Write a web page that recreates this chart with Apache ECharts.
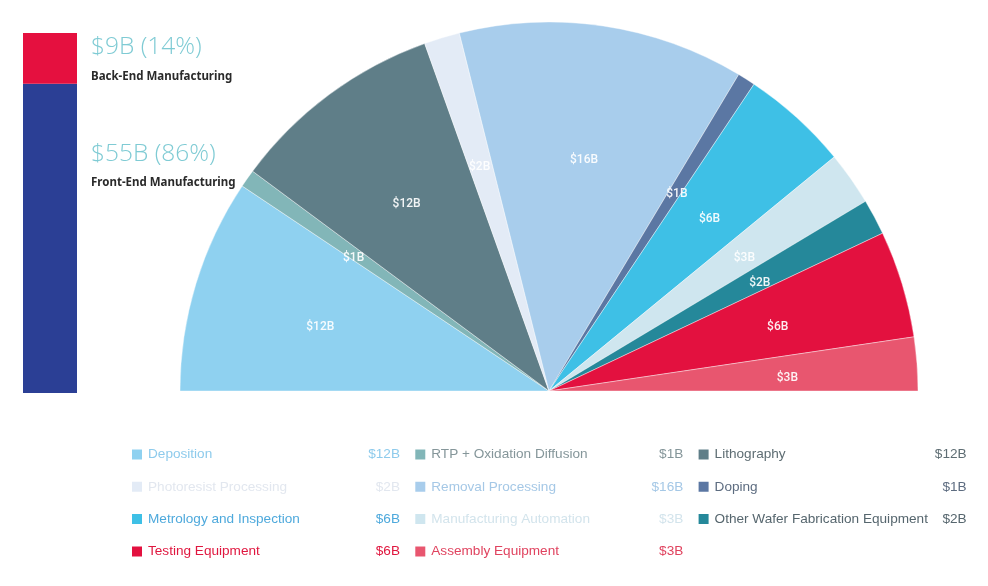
<!DOCTYPE html>
<html><head><meta charset="utf-8">
<script src="https://cdn.jsdelivr.net/npm/echarts@6/dist/echarts.min.js"></script>
<style>html,body{margin:0;padding:0;background:#fff}#c{width:988px;height:586px}</style>
</head><body><div id="c"></div>
<script>
// ---- data ----
const categories = ['Deposition','RTP + Oxidation Diffusion','Lithography','Photoresist Processing','Removal Processing','Doping','Metrology and Inspection','Manufacturing Automation','Other Wafer Fabrication Equipment','Testing Equipment','Assembly Equipment'];
const values = [12, 1, 12, 2, 16, 1, 6, 3, 2, 6, 3];
const segmentNames = ['Front-End Manufacturing', 'Back-End Manufacturing'];
const segmentValues = [55, 9];

// ---- styles ----
const sliceColors = ['#8fd1f0','#82b6b8','#5f7e88','#e3ebf6','#a8cdec','#5b77a3','#3ec0e6','#cfe6ef','#25889a','#e3113f','#e8566f'];
const legendTextColors = ['#8ecbec','#85969a','#5e6d73','#e2e7ef','#a5c8e6','#5d6c80','#4ea9dc','#d3e4ec','#56666e','#e0173f','#e0435f'];
const segmentColors = ['#2b3f95', '#e5103f'];

const segTotal = segmentValues.reduce((a, b) => a + b, 0);

const pieData = categories.map((n, i) => ({ name: n, value: values[i], itemStyle: { color: sliceColors[i] } }));
const labelData = categories.map((n, i) => ({ name: n, value: values[i] }));

const segLabelOffsets = [[68, 55.5], [68, -1]];
const legendFont = 'Liberation Sans, Arial, sans-serif';

const chart = echarts.init(document.getElementById('c'), null, { renderer: 'canvas' });
chart.setOption({
  animation: false,
  backgroundColor: '#ffffff',
  grid: { left: 23, top: 33, width: 54, height: 360 },
  xAxis: { type: 'category', data: ['Total'], show: false },
  yAxis: { type: 'value', min: 0, max: segTotal, show: false },
  legend: {
    left: 130, top: 445, width: 845, padding: 0,
    orient: 'horizontal',
    icon: 'rect', itemWidth: 12, itemHeight: 12, itemGap: 13.3,
    selectedMode: false,
    data: categories.map((n, i) => ({ name: n, textStyle: { color: legendTextColors[i] } })),
    formatter: function (name) {
      const i = categories.indexOf(name);
      return '{n|' + name + '}{v|$' + values[i] + 'B}';
    },
    textStyle: {
      fontFamily: legendFont, fontSize: 13.6, lineHeight: 19,
      rich: {
        n: { width: 217, height: 19, fontSize: 13.6, lineHeight: 19, fontFamily: legendFont },
        v: { width: 35, height: 19, align: 'right', fontSize: 13.6, lineHeight: 19, fontFamily: legendFont }
      }
    }
  },
  series: [
    {
      type: 'pie',
      center: [549, 391], radius: [0, 369],
      startAngle: 180, endAngle: 0, clockwise: true,
      data: pieData,
      itemStyle: { borderColor: '#ffffff', borderWidth: 0.4 },
      label: { show: false }, labelLine: { show: false },
      emphasis: { disabled: true }
    },
    {
      type: 'pie',
      center: [549, 396], radius: [0, 472],
      startAngle: 180, endAngle: 0, clockwise: true,
      data: labelData, silent: true, z: 5,
      itemStyle: { color: 'rgba(0,0,0,0)', borderWidth: 0 },
      label: {
        show: true, position: 'inside',
        formatter: p => '$' + p.value + 'B',
        color: 'rgba(255,255,255,0.92)', fontFamily: 'Roboto, sans-serif',
        fontSize: 12, fontWeight: 500
      },
      labelLine: { show: false },
      emphasis: { disabled: true }
    },
    ...segmentNames.map((n, i) => ({
      type: 'bar', name: n, stack: 'seg', barWidth: '100%',
      data: [segmentValues[i]],
      itemStyle: { color: segmentColors[i] },
      emphasis: { disabled: true },
      label: {
        show: true, position: segLabelOffsets[i], align: 'left', verticalAlign: 'top',
        formatter: p => '{v|$' + p.value + 'B (' + Math.round(p.value / segTotal * 100) + '%)}\n{n|' + n + '}',
        rich: {
          v: { fontFamily: 'Open Sans, sans-serif', fontWeight: 300, fontSize: 24.5, color: '#7fcbd4', lineHeight: i === 0 ? 29 : 30 },
          n: { fontFamily: 'Noto Sans, sans-serif', fontSize: 11.5, fontWeight: 'bold', color: '#2a2a2a', lineHeight: i === 0 ? 29 : 30 }
        }
      }
    }))
  ]
});
</script>
</body></html>
